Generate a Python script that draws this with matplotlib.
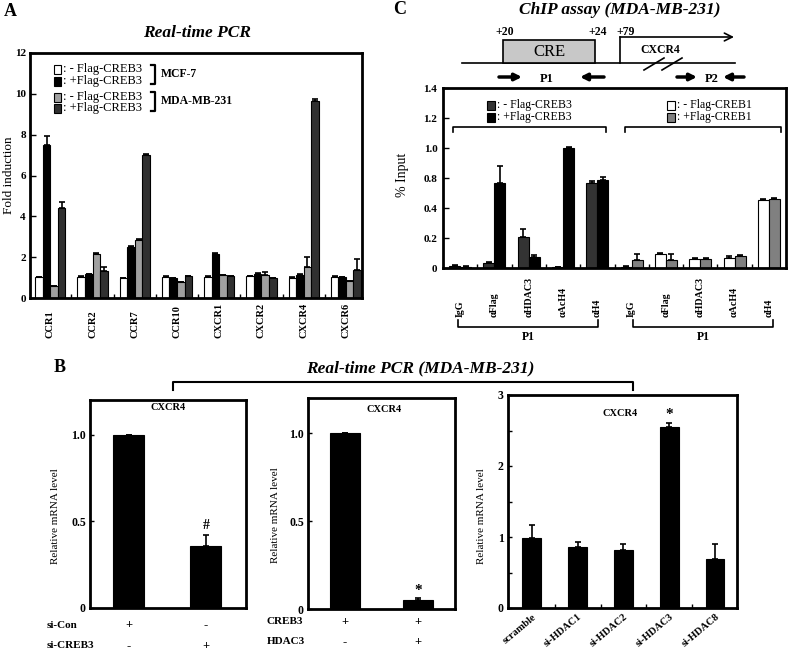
import numpy as np
import matplotlib.pyplot as plt
from matplotlib.patches import Rectangle
from matplotlib.transforms import blended_transform_factory

plt.rcParams['font.family'] = ['Liberation Serif', 'DejaVu Serif']
plt.rcParams['font.weight'] = 'bold'

W, H = 788, 652

# ---- panel A: real-time PCR, fold induction
genes = ['CCR1', 'CCR2', 'CCR7', 'CCR10', 'CXCR1', 'CXCR2', 'CXCR4', 'CXCR6']
mcf7_minus = [1.03, 1.05, 0.98, 1.05, 1.05, 1.08, 1.0, 1.05]
mcf7_plus = [7.5, 1.18, 2.51, 0.98, 2.16, 1.18, 1.13, 1.03]
mda_minus = [0.59, 2.16, 2.84, 0.77, 1.11, 1.15, 1.52, 0.82]
mda_plus = [4.41, 1.34, 7.0, 1.08, 1.08, 0.98, 9.65, 1.38]
mcf7_minus_err = [0.02, 0.02, 0.02, 0.02, 0.02, 0.02, 0.02, 0.02]
mcf7_plus_err = [0.45, 0.02, 0.03, 0.02, 0.03, 0.03, 0.03, 0.02]
mda_minus_err = [0.02, 0.02, 0.03, 0.02, 0.02, 0.1, 0.48, 0.02]
mda_plus_err = [0.3, 0.18, 0.05, 0.02, 0.02, 0.02, 0.08, 0.52]

# ---- panel B: relative mRNA level of CXCR4
b1_vals = [1.0, 0.36]
b1_err = [0.0, 0.06]
b1_rows = ['si-Con', 'si-CREB3']
b1_signs = [['+', '-'], ['-', '+']]

b2_vals = [1.0, 0.05]
b2_err = [0.0, 0.01]
b2_rows = ['CREB3', 'HDAC3']
b2_signs = [['+', '+'], ['-', '+']]

b3_labels = ['scramble', 'si-HDAC1', 'si-HDAC2', 'si-HDAC3', 'si-HDAC8']
b3_vals = [0.99, 0.86, 0.82, 2.55, 0.69]
b3_err = [0.18, 0.07, 0.08, 0.06, 0.21]

# ---- panel C: ChIP assay, % input
chip_labels = ['IgG', 'αFlag', 'αHDAC3', 'αAcH4', 'αH4']
creb3_minus = [0.015, 0.033, 0.207, 0.005, 0.567]
creb3_plus = [0.01, 0.567, 0.073, 0.8, 0.584]
creb1_minus = [0.01, 0.096, 0.058, 0.07, 0.456]
creb1_plus = [0.051, 0.051, 0.06, 0.078, 0.46]
creb3_minus_err = [0.005, 0.01, 0.05, 0.003, 0.01]
creb3_plus_err = [0.003, 0.11, 0.012, 0.01, 0.02]
creb1_minus_err = [0.003, 0.003, 0.008, 0.01, 0.003]
creb1_plus_err = [0.04, 0.045, 0.008, 0.008, 0.004]
chip_yticks = [0, 0.2, 0.4, 0.6, 0.8, 1.0, 1.2]
chip_yticklabels = ['0', '0.2', '0.4', '0.8', '1.0', '1.2', '1.4']

fig = plt.figure(figsize=(W / 100, H / 100), dpi=100)
fig.patch.set_facecolor('white')


def px_axes(l, t, r, b):
    return fig.add_axes([l / W, 1 - b / H, (r - l) / W, (b - t) / H])


def frame(ax):
    for s in ax.spines.values():
        s.set_linewidth(2)


def up_bars(ax, x, vals, err, width, color):
    ax.bar(x, vals, width, color=color, edgecolor='black', linewidth=0.8, zorder=2)
    ax.errorbar(x, vals, yerr=[np.zeros(len(vals)), err], fmt='none',
                ecolor='black', elinewidth=1.2, capsize=2, capthick=1.2, zorder=3)


# ================= A =================
axA = px_axes(30, 53, 362, 298)
frame(axA)
x = np.arange(len(genes))
bw = 0.178
up_bars(axA, x - 1.5 * bw, mcf7_minus, mcf7_minus_err, bw, 'white')
up_bars(axA, x - 0.5 * bw, mcf7_plus, mcf7_plus_err, bw, 'black')
up_bars(axA, x + 0.5 * bw, mda_minus, mda_minus_err, bw, '#a0a0a0')
up_bars(axA, x + 1.5 * bw, mda_plus, mda_plus_err, bw, '#303030')
axA.set_xlim(-0.48, 7.38)
axA.set_ylim(0, 12)
axA.set_yticks(range(0, 13, 2))
axA.tick_params(axis='y', direction='in', length=4, width=1, labelsize=8, pad=3)
axA.set_xticks(x)
axA.set_xticklabels(genes, rotation=90, fontsize=7.5)
for lb in axA.get_xticklabels():
    lb.set_va('bottom')
axA.tick_params(axis='x', which='major', length=0, pad=29)
axA.set_xticks(x[:-1] + 0.5, minor=True)
axA.tick_params(axis='x', which='minor', direction='in', length=3, width=1)
axA.set_ylabel('Fold induction', fontsize=9.5)
axA.yaxis.set_label_coords(-0.044, 0.5)

# ================= C =================
axC = px_axes(443, 88, 786, 268)
frame(axC)
xc = np.arange(10)
cw = 0.32
up_bars(axC, xc[:5] - cw / 2, creb3_minus, creb3_minus_err, cw, '#333333')
up_bars(axC, xc[:5] + cw / 2, creb3_plus, creb3_plus_err, cw, 'black')
up_bars(axC, xc[5:] - cw / 2, creb1_minus, creb1_minus_err, cw, 'white')
up_bars(axC, xc[5:] + cw / 2, creb1_plus, creb1_plus_err, cw, '#808080')
axC.set_xlim(-0.5, 9.5)
axC.set_ylim(0, 1.2)
axC.set_yticks(chip_yticks)
axC.set_yticklabels(chip_yticklabels)
axC.tick_params(axis='y', direction='in', length=4, width=1, labelsize=8, pad=4)
axC.set_xticks(xc)
axC.set_xticklabels(chip_labels * 2, rotation=90, fontsize=7.2)
for lb in axC.get_xticklabels():
    lb.set_va('bottom')
axC.tick_params(axis='x', which='major', length=0, pad=35)
axC.set_xticks(xc[:-1] + 0.5, minor=True)
axC.tick_params(axis='x', which='minor', direction='in', length=3, width=1)
axC.set_ylabel('% Input', fontsize=10)
axC.yaxis.set_label_coords(-0.1, 0.52)

# ================= B =================
axB1 = px_axes(90, 400, 246, 608)
axB2 = px_axes(308, 398, 455, 609)
axB3 = px_axes(508, 395, 737, 608)
for ax, lx, ly, cx, cy in [(axB1, -0.19, 0.44, 0.5, 0.965),
                           (axB2, -0.19, 0.445, 0.52, 0.945),
                           (axB3, -0.095, 0.43, 0.49, 0.915)]:
    frame(ax)
    ax.tick_params(axis='y', direction='in', length=3, width=1, labelsize=8.5, pad=3)
    ax.set_ylabel('Relative mRNA level', fontsize=8)
    ax.yaxis.set_label_coords(lx, ly)
    ax.text(cx, cy, 'CXCR4', transform=ax.transAxes, ha='center', va='center', fontsize=7.5)

up_bars(axB1, [0, 1], b1_vals, b1_err, 0.4, 'black')
axB1.set_xlim(-0.5, 1.52)
axB1.set_ylim(0, 1.2)
axB1.set_yticks([0, 0.5, 1.0], ['0', '0.5', '1.0'])
axB1.set_xticks([])
axB1.text(1, b1_vals[1] + b1_err[1] + 0.02, '#', ha='center', va='bottom', fontsize=10)

up_bars(axB2, [0, 1], b2_vals, b2_err, 0.41, 'black')
axB2.set_xlim(-0.5, 1.5)
axB2.set_ylim(0, 1.2)
axB2.set_yticks([0, 0.5, 1.0], ['0', '0.5', '1.0'])
axB2.set_xticks([])
axB2.text(1, b2_vals[1] + b2_err[1] + 0.01, '*', ha='center', va='bottom', fontsize=11)

xb = np.arange(len(b3_labels))
up_bars(axB3, xb, b3_vals, b3_err, 0.41, 'black')
axB3.set_xlim(-0.52, 4.48)
axB3.set_ylim(0, 3)
axB3.set_yticks([0, 1, 2, 3])
axB3.set_yticks([0.5, 1.5, 2.5], minor=True)
axB3.tick_params(axis='y', which='minor', direction='in', length=3, width=1)
axB3.set_xticks(xb)
axB3.set_xticklabels(b3_labels, rotation=40, ha='right', rotation_mode='anchor', fontsize=7.5)
axB3.tick_params(axis='x', which='major', length=0, pad=3)
axB3.set_xticks(xb[:-1] + 0.5, minor=True)
axB3.tick_params(axis='x', which='minor', direction='in', length=3, width=1)
axB3.text(3, b3_vals[3] + b3_err[3] + 0.02, '*', ha='center', va='bottom', fontsize=11)

# ================= overlay in pixel coordinates =================
ov = fig.add_axes([0, 0, 1, 1], zorder=10)
ov.set_xlim(0, W)
ov.set_ylim(H, 0)
ov.axis('off')

ov.text(10, 12, 'A', fontsize=13, ha='center', va='center')
ov.text(60, 368, 'B', fontsize=13, ha='center', va='center')
ov.text(400, 10, 'C', fontsize=13, ha='center', va='center')

ov.text(197, 33, 'Real-time PCR', fontsize=12.5, style='italic', ha='center', va='center')
ov.text(620, 10, 'ChIP assay (MDA-MB-231)', fontsize=12.5, style='italic', ha='center', va='center')
ov.text(420, 368, 'Real-time PCR (MDA-MB-231)', fontsize=12.5, style='italic', ha='center', va='center')

# legend A
legA = [(69, 'white', ': - Flag-CREB3'), (81, 'black', ': +Flag-CREB3'),
        (97, '#a0a0a0', ': - Flag-CREB3'), (108, '#303030', ': +Flag-CREB3')]
for yy, c, t in legA:
    ov.add_patch(Rectangle((54, yy - 4.5), 7, 9, fc=c, ec='black', lw=0.8))
    ov.text(63, yy, t, fontsize=9, weight='normal', va='center')
ov.plot([151, 155, 155, 151], [65, 65, 84, 84], color='k', lw=1.6)
ov.plot([151, 155, 155, 151], [92, 92, 111, 111], color='k', lw=1.6)
ov.text(161, 74, 'MCF-7', fontsize=8.5, va='center')
ov.text(161, 101, 'MDA-MB-231', fontsize=8.5, va='center')

# legend C
legC = [(492, 105, '#333333', ': - Flag-CREB3'), (492, 117, 'black', ': +Flag-CREB3'),
        (672, 105, 'white', ': - Flag-CREB1'), (672, 117, '#808080', ': +Flag-CREB1')]
for xx, yy, c, t in legC:
    ov.add_patch(Rectangle((xx - 4.5, yy - 4.5), 8, 9, fc=c, ec='black', lw=0.8))
    ov.text(xx + 5, yy, t, fontsize=8.5, weight='normal', va='center')
ov.plot([453, 453, 606, 606], [132, 127, 127, 132], color='k', lw=1.2)
ov.plot([625, 625, 781, 781], [132, 127, 127, 132], color='k', lw=1.2)

# P1 brackets under C
for l, r in [(458, 598), (633, 773)]:
    ov.plot([l, l, r, r], [320, 327, 327, 320], color='k', lw=1.2)
    ov.text((l + r) / 2, 337, 'P1', fontsize=8.5, ha='center', va='center')

# promoter diagram
ov.plot([462, 735], [63, 63], color='k', lw=1.2)
ov.add_patch(Rectangle((503, 40), 92, 23, fc='#c8c8c8', ec='black', lw=1.2, zorder=3))
ov.text(549, 52, 'CRE', fontsize=12, weight='normal', ha='center', va='center', zorder=4)
ov.text(505, 32, '+20', fontsize=8.5, ha='center', va='center')
ov.text(598, 32, '+24', fontsize=8.5, ha='center', va='center')
ov.text(626, 32, '+79', fontsize=8.5, ha='center', va='center')
ov.plot([620, 620], [63, 37], color='k', lw=1.2)
ov.annotate('', xy=(734, 37), xytext=(620, 37),
            arrowprops=dict(arrowstyle='->', lw=1.2, mutation_scale=14, shrinkA=0, shrinkB=0, color='k'))
ov.text(660, 50, 'CXCR4', fontsize=8.5, ha='center', va='center')
ov.plot([644, 664], [70, 58], color='k', lw=1.2)
ov.plot([662, 682], [70, 58], color='k', lw=1.2)
for x0, x1 in [(499, 522), (604, 580), (677, 697), (744, 723)]:
    ov.annotate('', xy=(x1, 77), xytext=(x0, 77),
                arrowprops=dict(arrowstyle='-|>', lw=2.5, mutation_scale=10, shrinkA=0, shrinkB=0, color='k'))
ov.text(547, 79, 'P1', fontsize=9, ha='center', va='center')
ov.text(712, 79, 'P2', fontsize=9, ha='center', va='center')

# bracket over B
ov.plot([173, 173, 633, 633], [390, 382, 382, 390], color='k', lw=1.5)

# B condition rows
for ax, rows, signs, ys, xl in [(axB1, b1_rows, b1_signs, (625, 646), 47),
                                (axB2, b2_rows, b2_signs, (622, 642), 267)]:
    tr = blended_transform_factory(ax.transData, ov.transData)
    for row, sg, yy in zip(rows, signs, ys):
        ov.text(xl, yy, row, fontsize=8, va='center')
        for i, s in enumerate(sg):
            ov.text(i, yy, s, transform=tr, fontsize=9, ha='center', va='center')

fig.savefig('out.png', dpi=100)
